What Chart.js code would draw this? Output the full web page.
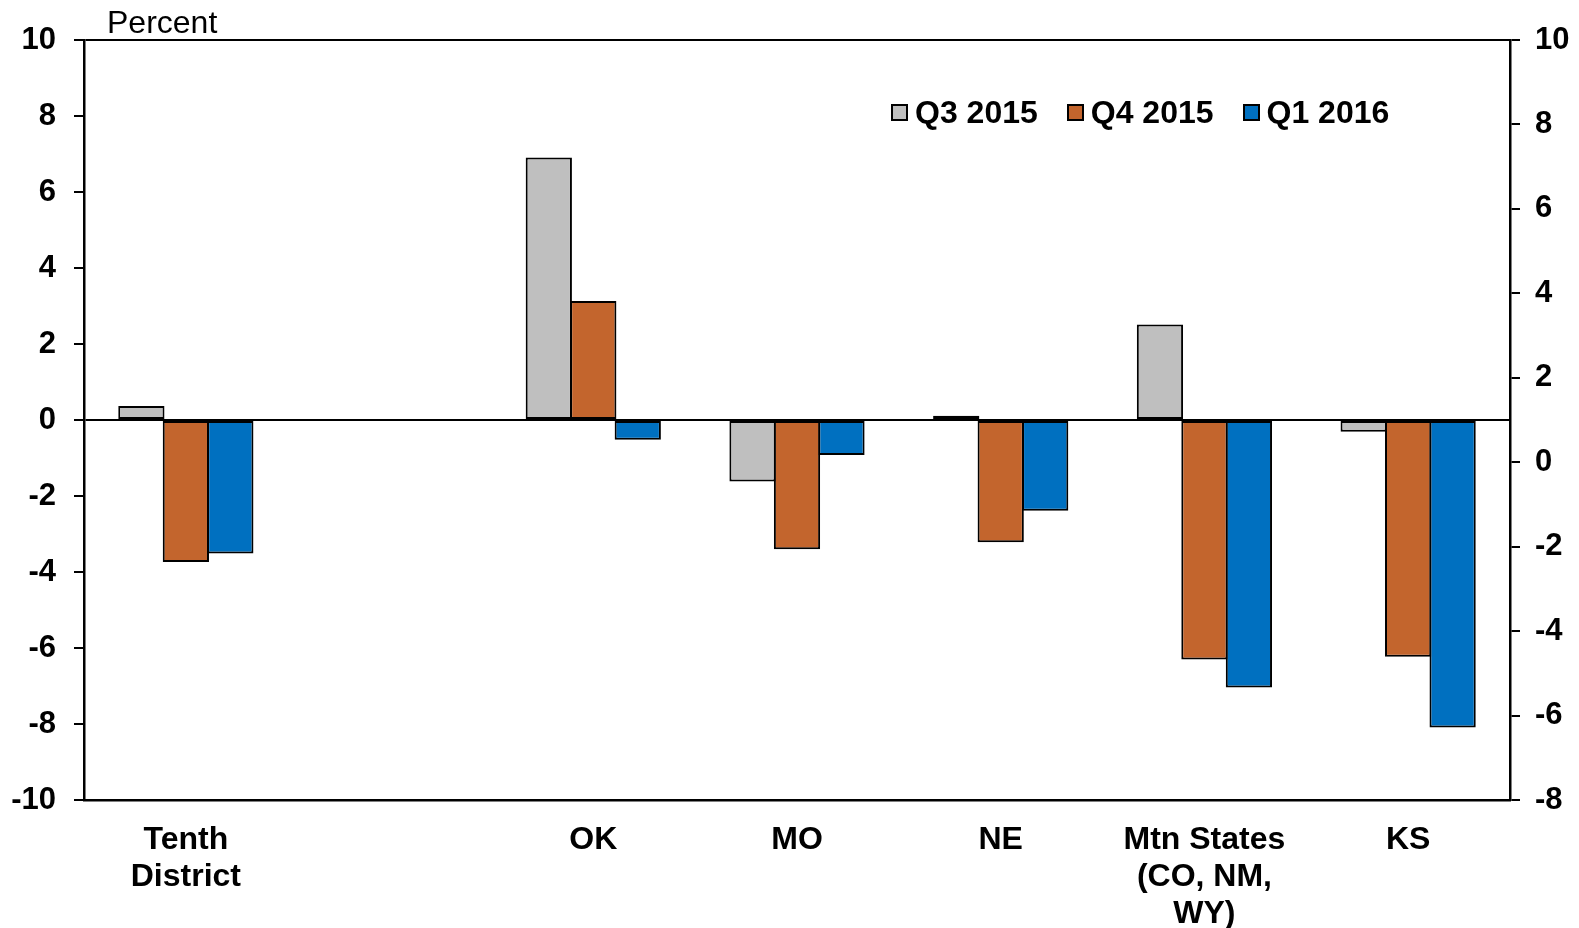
<!DOCTYPE html>
<html>
<head>
<meta charset="utf-8">
<script src="https://cdn.jsdelivr.net/npm/chart.js@4.4.1/dist/chart.umd.min.js"></script>
<style>
html,body{margin:0;padding:0;background:#fff;}
#wrap{position:relative;width:1579px;height:928px;overflow:hidden;}
#c{position:absolute;left:0;top:0;}
#unit{position:absolute;left:107px;top:4px;font:32px "Liberation Sans",Arial,sans-serif;line-height:36px;color:#000;}
#legend{position:absolute;left:891px;top:94px;display:flex;font:bold 32px "Liberation Sans",Arial,sans-serif;line-height:36px;color:#000;}
.item{display:flex;align-items:center;margin-right:29px;}
.sw{width:13px;height:13px;border:2px solid #000;margin-right:7px;}
</style>
</head>
<body>
<div id="wrap">
<canvas id="c" width="1579" height="928"></canvas>
<div id="unit">Percent</div>
<div id="legend"></div>
</div>
<script>
// ---- data ----
const categories = [['Tenth', 'District'], '', 'OK', 'MO', 'NE', ['Mtn States', '(CO, NM,', 'WY)'], 'KS'];
const seriesNames = ['Q3 2015', 'Q4 2015', 'Q1 2016'];
const q3_2015 = [0.37, null, 6.91, -1.62, 0.11, 2.51, -0.31];
const q4_2015 = [-3.74, null, 3.13, -3.40, -3.22, -6.30, -6.23];
const q1_2016 = [-3.51, null, -0.52, -0.92, -2.39, -7.04, -8.09];
const leftAxis = { min: -10, max: 10, step: 2 };
const rightAxis = { min: -8, max: 10, step: 2 };
const seriesColors = ['#BFBFBF', '#C3652D', '#0070C0'];

// ---- chart ----
const FONT = '"Liberation Sans", Arial, sans-serif';
Chart.defaults.font.family = FONT;
Chart.defaults.color = '#000';

const seriesData = [q3_2015, q4_2015, q1_2016];
const datasets = seriesNames.map((name, i) => ({
  label: name,
  data: seriesData[i],
  backgroundColor: seriesColors[i],
  borderColor: '#000',
  borderWidth: 2,
  borderSkipped: false,
  yAxisID: 'y',
  categoryPercentage: 0.655,
  barPercentage: 1.04
}));

new Chart(document.getElementById('c'), {
  type: 'bar',
  data: { labels: categories, datasets },
  options: {
    responsive: false,
    animation: false,
    layout: { padding: { top: 40, left: 0, right: 0, bottom: 0 } },
    plugins: { legend: { display: false }, tooltip: { enabled: false }, title: { display: false } },
    scales: {
      x: {
        grid: { display: false, drawTicks: false },
        border: { display: true, color: '#000', width: 2.5 },
        ticks: { font: { size: 32, weight: 'bold', lineHeight: 1.17 }, padding: 21, maxRotation: 0, autoSkip: false },
        afterFit(s) { s.height = 128; }
      },
      y: {
        position: 'left',
        min: leftAxis.min, max: leftAxis.max,
        ticks: { stepSize: leftAxis.step, font: { size: 31, weight: 'bold' }, padding: 18 },
        grid: {
          drawTicks: true, tickLength: 10, lineWidth: 2, tickColor: '#000', tickWidth: 2,
          color: (ctx) => (ctx.tick && (ctx.tick.value === 0 || ctx.tick.value === leftAxis.max)) ? '#000' : 'rgba(0,0,0,0)'
        },
        border: { display: true, color: '#000', width: 2.5 },
        afterFit(s) { s.width = 84; }
      },
      y2: {
        position: 'right',
        min: rightAxis.min, max: rightAxis.max,
        ticks: { stepSize: rightAxis.step, font: { size: 31, weight: 'bold' }, padding: 15 },
        grid: { drawOnChartArea: false, drawTicks: true, tickLength: 10, lineWidth: 2, color: '#000' },
        border: { display: true, color: '#000', width: 2.5 },
        afterFit(s) { s.width = 69; }
      }
    }
  }
});

// ---- legend (HTML) ----
const legendEl = document.getElementById('legend');
seriesNames.forEach((name, i) => {
  const item = document.createElement('div');
  item.className = 'item';
  const sw = document.createElement('div');
  sw.className = 'sw';
  sw.style.background = seriesColors[i];
  const tx = document.createElement('span');
  tx.textContent = name;
  item.appendChild(sw);
  item.appendChild(tx);
  legendEl.appendChild(item);
});
</script>
</body>
</html>
